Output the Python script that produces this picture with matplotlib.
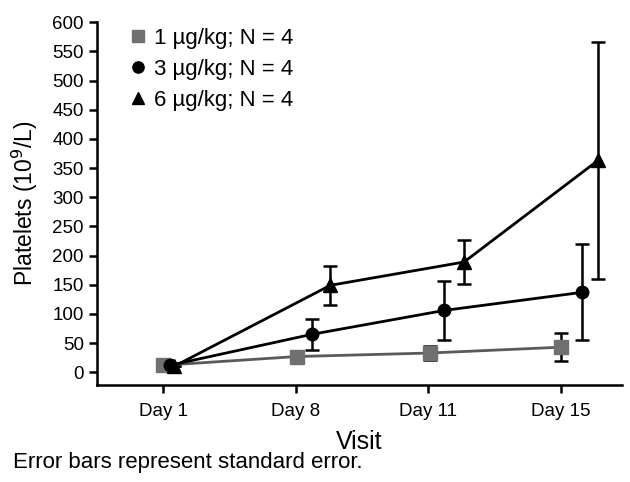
import matplotlib
matplotlib.use("Agg")
import matplotlib.pyplot as plt
import numpy as np

plt.rcParams['font.family'] = ['Liberation Sans', 'DejaVu Sans']

visits = ["Day 1", "Day 8", "Day 11", "Day 15"]
labels = ["1 µg/kg; N = 4", "3 µg/kg; N = 4", "6 µg/kg; N = 4"]
means_1 = [12, 27, 33, 43]
se_1 = [0, 8, 12, 24]
means_3 = [12, 65, 106, 137]
se_3 = [0, 26, 50, 82]
means_6 = [10, 149, 189, 363]
se_6 = [0, 33, 37, 203]

fig = plt.figure(figsize=(6.3, 4.82), dpi=100)
ax = fig.add_axes([0.154, 0.201, 0.833, 0.753])

x = np.arange(len(visits))
offsets = [np.array([0.0, 0.01, 0.01, 0.0]),
           np.array([0.05, 0.12, 0.12, 0.16]),
           np.array([0.08, 0.26, 0.27, 0.28])]
series = [(means_1, se_1, 's', '#707070', '#5a5a5a', 9.5),
          (means_3, se_3, 'o', 'black', 'black', 9),
          (means_6, se_6, '^', 'black', 'black', 10)]

handles = []
for i, (m, s, mk, mc, lc, ms) in enumerate(series):
    xs = x + offsets[i]
    ax.errorbar(xs, m, yerr=s, fmt='none', ecolor='black', elinewidth=1.8,
                capsize=5, capthick=1.8, zorder=2)
    ax.plot(xs, m, color=lc, lw=2.0, zorder=3)
    h, = ax.plot(xs, m, linestyle='none', marker=mk, markersize=ms,
                 markerfacecolor=mc, markeredgecolor=mc, zorder=4 + i)
    handles.append(h)

ax.set_xlim(-0.5, 3.46)
ax.set_ylim(-22, 600)
ax.set_yticks(np.arange(0, 601, 50))
ax.set_xticks(x)
ax.set_xticklabels(visits)
ax.spines['top'].set_visible(False)
ax.spines['right'].set_visible(False)
ax.spines['left'].set_bounds(-22, 600)
for sp in ['left', 'bottom']:
    ax.spines[sp].set_linewidth(1.8)
ax.tick_params(axis='both', direction='out', length=6, width=1.8, labelsize=13.5)
ax.tick_params(axis='x', pad=7)

ax.set_xlabel("Visit", fontsize=18, labelpad=7)
ax.set_ylabel("Platelets (10$^9$/L)", fontsize=16.5, labelpad=9)

legend_handles = [plt.Line2D([], [], linestyle='none', marker=h.get_marker(),
                             markersize=h.get_markersize() * 0.9,
                             markerfacecolor=h.get_markerfacecolor(),
                             markeredgecolor=h.get_markeredgecolor())
                  for h in handles]
leg = ax.legend(legend_handles, labels, loc='upper left', bbox_to_anchor=(0.04, 1.02),
                frameon=False, fontsize=16, handlelength=0.6, handletextpad=0.4,
                labelspacing=0.45, borderaxespad=0.2)

fig.text(0.02, 0.03, "Error bars represent standard error.", fontsize=16)

fig.savefig("out.png", dpi=100)
